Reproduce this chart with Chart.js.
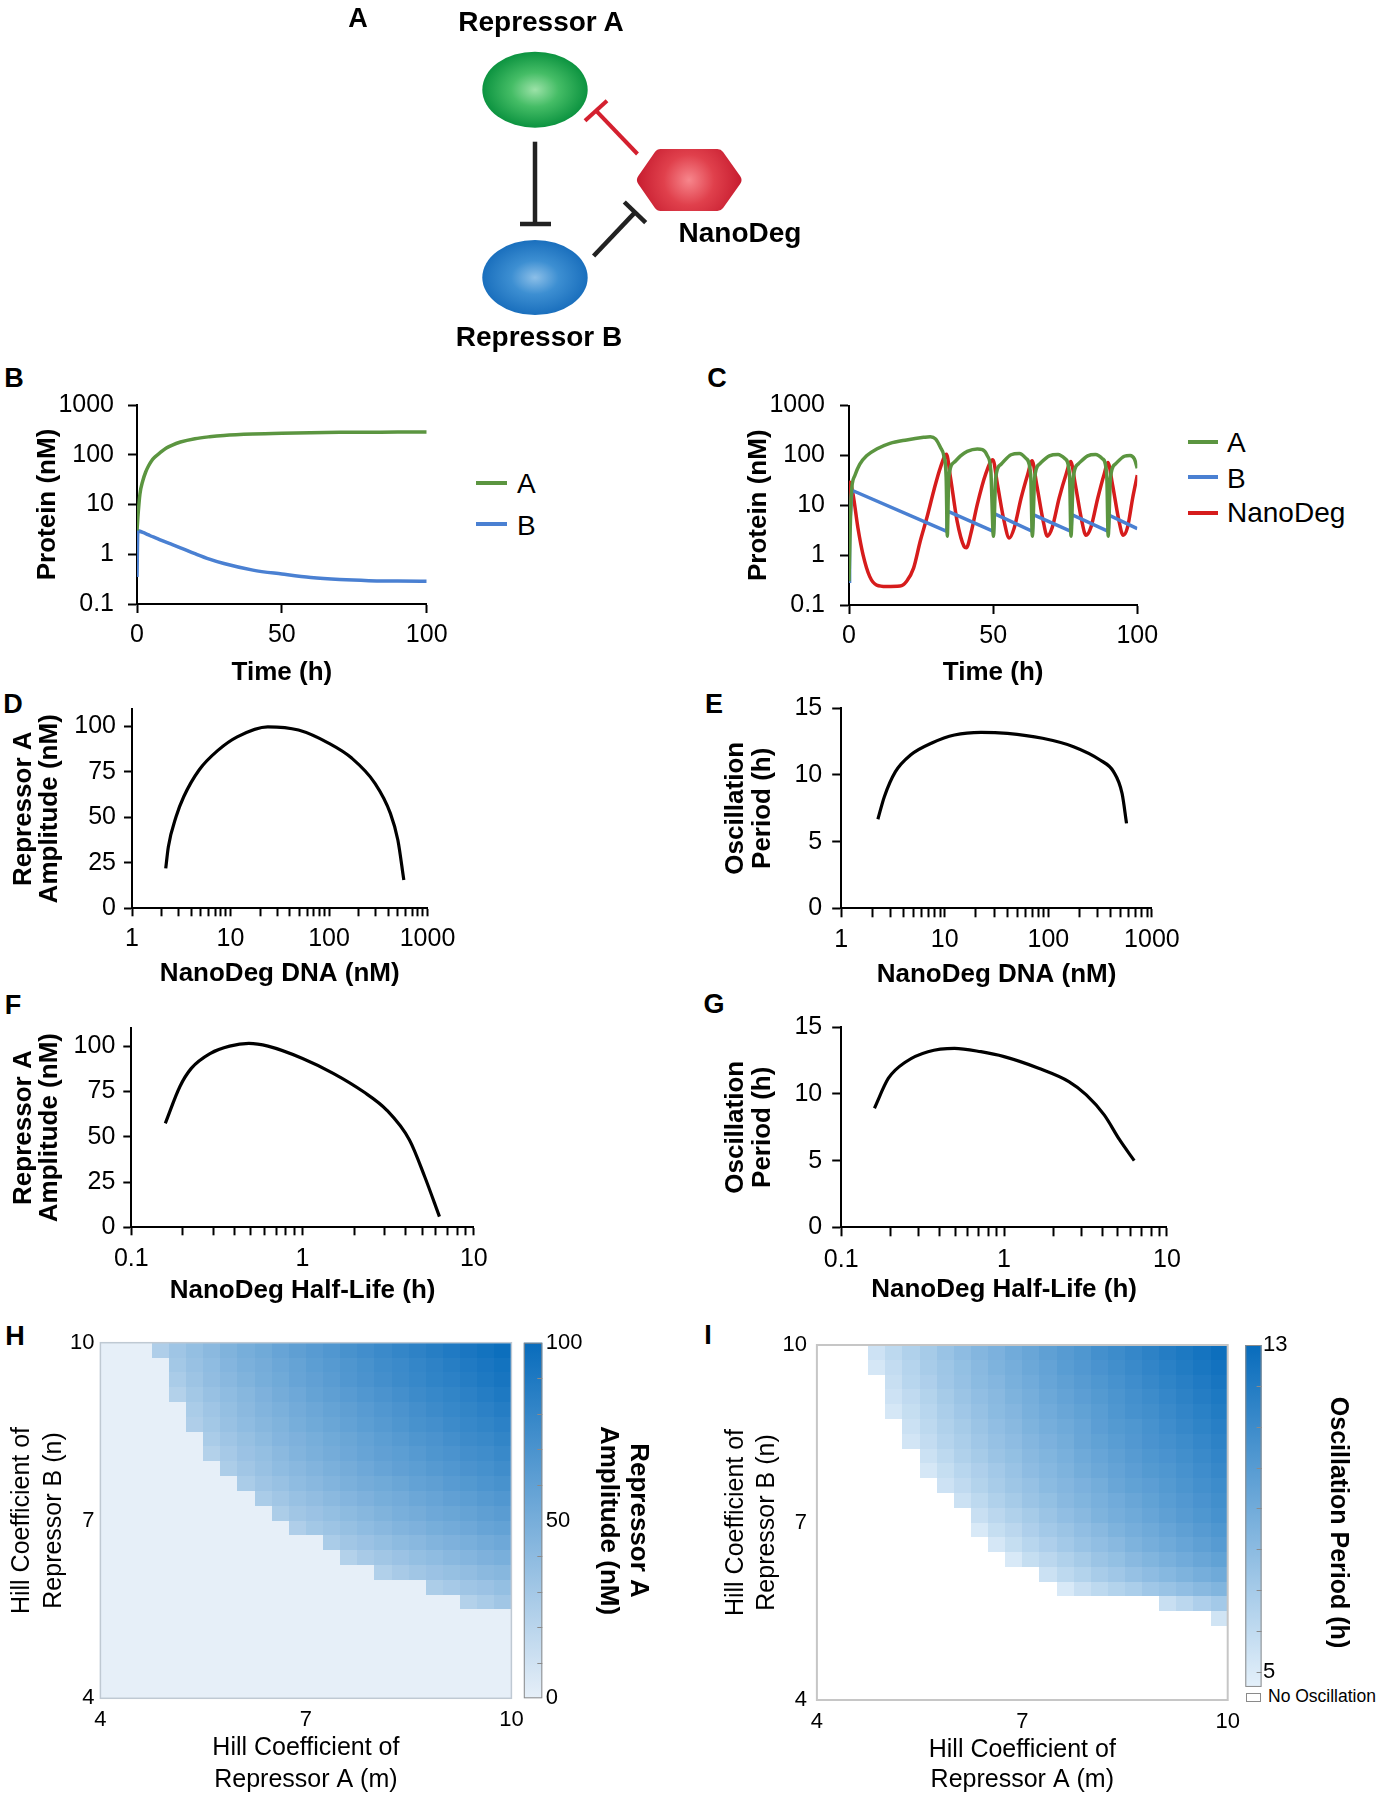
<!DOCTYPE html>
<html lang="en">
<head>
<meta charset="UTF-8">
<title>NanoDeg oscillator</title>
<script src="https://cdn.jsdelivr.net/npm/chart.js@4.4.1/dist/chart.umd.min.js"></script>
<style>
  body { margin: 0; background: #fff; }
  #page { position: relative; width: 1381px; height: 1800px; overflow: hidden; font-family: 'Liberation Sans', Arial, sans-serif; color: #000; }
  #page canvas { position: absolute; }
  .lbl { position: absolute; white-space: nowrap; line-height: 1; transform: translate(-50%, -50%); }
  .b { font-weight: bold; }
  .key { position: absolute; height: 4px; }
  .keytxt { position: absolute; font-size: 28px; line-height: 1; transform: translateY(-50%); white-space: nowrap; }
</style>
</head>
<body>
<div id="page">
  <canvas id="diagram" width="500" height="360" style="left:300px;top:0;width:500px;height:360px"></canvas>

  <div class="lbl b" style="left:358px;top:18px;font-size:27px">A</div>
  <div class="lbl b" style="left:541px;top:22px;font-size:28px">Repressor A</div>
  <div class="lbl b" style="left:740px;top:233px;font-size:28px">NanoDeg</div>
  <div class="lbl b" style="left:539px;top:337px;font-size:28px">Repressor B</div>

  <div class="lbl b" style="left:14px;top:378px;font-size:27px">B</div>
  <div class="lbl b" style="left:717px;top:378px;font-size:27px">C</div>
  <div class="lbl b" style="left:13px;top:704px;font-size:27px">D</div>
  <div class="lbl b" style="left:714px;top:704px;font-size:27px">E</div>
  <div class="lbl b" style="left:13px;top:1005px;font-size:27px">F</div>
  <div class="lbl b" style="left:714px;top:1004px;font-size:27px">G</div>
  <div class="lbl b" style="left:15px;top:1336px;font-size:27px">H</div>
  <div class="lbl b" style="left:708px;top:1335px;font-size:27px">I</div>

  <div class="key" style="left:476px;top:481px;width:31px;background:#5b9540"></div>
  <div class="keytxt" style="left:517px;top:484px">A</div>
  <div class="key" style="left:476px;top:522px;width:31px;background:#4a80d2"></div>
  <div class="keytxt" style="left:517px;top:526px">B</div>

  <div class="key" style="left:1188px;top:440px;width:30px;background:#5b9540"></div>
  <div class="keytxt" style="left:1227px;top:443px">A</div>
  <div class="key" style="left:1188px;top:475px;width:30px;background:#4a80d2"></div>
  <div class="keytxt" style="left:1227px;top:479px">B</div>
  <div class="key" style="left:1188px;top:511px;width:30px;background:#d61c1c"></div>
  <div class="keytxt" style="left:1227px;top:513px">NanoDeg</div>

  <div style="position:absolute;left:1246px;top:1693px;width:15px;height:9px;border:1px solid #8a8a8a;box-sizing:border-box;background:#fff"></div>
  <div class="keytxt" style="left:1268px;top:1697px;font-size:17.5px">No Oscillation</div>
</div>

<script>
// ---- B: circuit without NanoDeg ----
const timeB   = [0, 0.3, 1, 2, 3, 4, 5, 6, 8, 10, 12, 15, 20, 25, 30, 40, 50, 60, 70, 80, 90, 100];
const protA_B = [3, 5.5, 16, 30, 45, 60, 75, 88, 110, 135, 155, 180, 210, 230, 245, 262, 272, 278, 282, 284, 286, 287];
const protB_B = [0.35, 3.0, 2.9, 2.75, 2.6, 2.45, 2.3, 2.18, 1.95, 1.75, 1.58, 1.35, 1.03, 0.8, 0.65, 0.48, 0.4, 0.34, 0.31, 0.295, 0.29, 0.285];

// ---- C: circuit with NanoDeg ----
const timeC_A = [0, 0.8, 2, 3.7, 6.1, 9.6, 14.2, 20, 25.9, 28.2, 30, 31.7, 32.9, 33.7, 34.1, 34.6, 36.4, 38.7, 41, 44.5,
                 46.3, 48, 49.2, 50.1, 50.9, 52.7, 56.2, 59.1, 61.4, 63, 63.6, 64.4, 66.2, 69.5, 72.5, 75, 76.5, 77, 77.8, 79.6,
                 82.8, 85.5, 88, 89.4, 89.9, 90.7, 92.5, 95.5, 97.5, 99, 100];
const protA_C = [0.3, 16.6, 39, 66, 98, 134, 174, 204, 230, 237, 214, 145, 98, 36, 2.4, 36, 72, 98, 120, 134,
                 130, 98, 49, 2.4, 36, 66, 103, 109, 87, 42, 2.4, 36, 68, 98, 104, 85, 40, 2.4, 36, 68,
                 98, 104, 85, 40, 2.4, 36, 68, 96, 100, 85, 55];
const timeC_B = [0, 0.2, 1, 33.9, 34.2, 50.1, 50.4, 63.6, 63.9, 77, 77.3, 89.9, 90.2, 100];
const protB_C = [0.3, 3.5, 20, 3.0, 7.6, 3.0, 6.8, 3.0, 6.5, 3.0, 6.5, 3.0, 6.3, 3.4];
const timeC_N = [0, 0.3, 1.4, 3.1, 4.9, 7.2, 9.6, 13, 17.7, 20, 22.4, 24.7, 27, 29.4, 31.7, 33.8, 35.2, 37.5, 39.9, 40.7,
                 42.2, 44.5, 47.4, 49.9, 51.5, 53.8, 55.6, 57.3, 59.7, 62, 63.5, 65.1, 67.3, 68.8, 70.5, 72.9, 75.3, 76.9, 78.5, 80.7,
                 82.2, 83.9, 86.3, 88.5, 89.8, 91.4, 93.6, 95.1, 96.6, 98.4, 100];
const protN_C = [3.5, 29, 16.6, 3.5, 1.0, 0.37, 0.25, 0.235, 0.24, 0.3, 0.55, 1.9, 5.6, 19.6, 57, 105, 36, 4.8, 1.5, 1.4,
                 2.6, 10.4, 42, 82, 26, 4.8, 2.2, 3.5, 14, 42, 78, 26, 5, 2.4, 3.6, 14, 42, 75, 26, 5,
                 2.5, 3.6, 14, 42, 72, 26, 5, 2.5, 3.6, 14, 40];

// ---- D / E: sweep of NanoDeg DNA ----
const dnaD = [2.2, 2.34, 2.8, 3.35, 4.8, 7.5, 11.7, 23.9, 49, 100, 171, 293, 420, 500, 575];
const ampD = [21.9, 33.8, 50.2, 61.2, 75.9, 86.8, 94.1, 99.6, 97.8, 90.5, 82.3, 68.6, 52.1, 37.5, 15.5];
const dnaE = [2.26, 2.61, 3.34, 4.67, 7.6, 12.4, 22.4, 40.3, 88, 175, 316, 426, 515, 569];
const perE = [6.68, 8.37, 10.25, 11.5, 12.42, 13.0, 13.2, 13.12, 12.75, 12.12, 11.12, 10.25, 8.62, 6.37];

// ---- F / G: sweep of NanoDeg half-life ----
const halfF = [0.158, 0.192, 0.224, 0.29, 0.375, 0.486, 0.628, 1.0, 1.51, 2.27, 3.1, 4.21, 5.17, 6.3];
const ampF  = [57.4, 77.6, 87.7, 96, 100, 101.5, 100, 93.2, 85, 74.8, 64.7, 48.2, 27.9, 5.9];
const halfG = [0.16, 0.195, 0.25, 0.341, 0.496, 0.72, 1.0, 1.63, 2.5, 3.2, 4.12, 5.13, 6.3];
const perG  = [8.93, 11.18, 12.42, 13.17, 13.42, 13.17, 12.8, 11.93, 10.93, 9.93, 8.43, 6.55, 5.0];

// ---- H / I: Hill coefficient scans (cell centres, rows listed top n=9.875 to bottom n=4.125) ----
const hillM = [4.125, 4.375, 4.625, 4.875, 5.125, 5.375, 5.625, 5.875, 6.125, 6.375, 6.625, 6.875,
               7.125, 7.375, 7.625, 7.875, 8.125, 8.375, 8.625, 8.875, 9.125, 9.375, 9.625, 9.875];
const hillN = [9.875, 9.625, 9.375, 9.125, 8.875, 8.625, 8.375, 8.125, 7.875, 7.625, 7.375, 7.125,
               6.875, 6.625, 6.375, 6.125, 5.875, 5.625, 5.375, 5.125, 4.875, 4.625, 4.375, 4.125];
const hillStep = 0.25;
// repressor A amplitude (nM)
const ampH = [
  [0,0,0,25,32,37,41,46,50,53,57,61,64,67,71,74,77,80,83,86,89,92,95,98],
  [0,0,0,0,30,35,39,44,48,51,55,58,62,65,68,71,75,77,80,83,86,89,92,95],
  [0,0,0,0,27,33,38,42,46,50,53,57,60,63,67,70,73,76,79,82,84,87,90,93],
  [0,0,0,0,23,30,35,39,43,47,51,54,58,61,64,67,70,73,76,79,81,84,87,90],
  [0,0,0,0,0,27,32,37,41,45,48,52,55,58,61,64,67,70,73,76,79,81,84,87],
  [0,0,0,0,0,25,30,35,39,43,46,50,53,56,59,62,65,68,71,73,76,79,81,84],
  [0,0,0,0,0,0,27,32,36,40,44,47,50,53,56,59,62,65,68,70,73,76,78,81],
  [0,0,0,0,0,0,23,29,34,37,41,45,48,51,54,57,60,62,65,68,70,73,75,78],
  [0,0,0,0,0,0,0,26,31,35,39,42,45,48,51,54,57,60,62,65,67,70,72,75],
  [0,0,0,0,0,0,0,0,27,32,35,39,42,45,48,51,53,56,59,61,64,66,69,71],
  [0,0,0,0,0,0,0,0,0,27,31,35,38,41,44,47,50,52,55,57,60,62,65,67],
  [0,0,0,0,0,0,0,0,0,0,26,31,34,37,40,43,46,49,51,54,56,58,61,63],
  [0,0,0,0,0,0,0,0,0,0,0,25,30,33,36,39,42,45,47,50,52,54,57,59],
  [0,0,0,0,0,0,0,0,0,0,0,0,0,27,31,34,37,40,42,45,47,49,52,54],
  [0,0,0,0,0,0,0,0,0,0,0,0,0,0,23,28,31,34,37,39,42,44,47,49],
  [0,0,0,0,0,0,0,0,0,0,0,0,0,0,0,0,24,28,31,34,36,38,41,43],
  [0,0,0,0,0,0,0,0,0,0,0,0,0,0,0,0,0,0,0,26,29,32,34,37],
  [0,0,0,0,0,0,0,0,0,0,0,0,0,0,0,0,0,0,0,0,0,23,27,31],
  [0,0,0,0,0,0,0,0,0,0,0,0,0,0,0,0,0,0,0,0,0,0,0,0],
  [0,0,0,0,0,0,0,0,0,0,0,0,0,0,0,0,0,0,0,0,0,0,0,0],
  [0,0,0,0,0,0,0,0,0,0,0,0,0,0,0,0,0,0,0,0,0,0,0,0],
  [0,0,0,0,0,0,0,0,0,0,0,0,0,0,0,0,0,0,0,0,0,0,0,0],
  [0,0,0,0,0,0,0,0,0,0,0,0,0,0,0,0,0,0,0,0,0,0,0,0],
  [0,0,0,0,0,0,0,0,0,0,0,0,0,0,0,0,0,0,0,0,0,0,0,0]
];
// oscillation period (h); 0 = no oscillation
const perI = [
  [0,0,0,5.5,6.1,6.6,7.0,7.5,7.9,8.3,8.6,9.0,9.3,9.7,10.0,10.3,10.7,11.0,11.3,11.6,11.9,12.2,12.5,12.8],
  [0,0,0,5.2,5.9,6.4,6.9,7.3,7.7,8.1,8.5,8.8,9.2,9.5,9.9,10.2,10.5,10.8,11.1,11.4,11.7,12.0,12.3,12.6],
  [0,0,0,0,5.7,6.3,6.7,7.2,7.6,8.0,8.3,8.7,9.0,9.4,9.7,10.0,10.3,10.6,10.9,11.2,11.5,11.8,12.1,12.4],
  [0,0,0,0,5.5,6.0,6.5,7.0,7.4,7.8,8.1,8.5,8.8,9.2,9.5,9.8,10.1,10.4,10.7,11.0,11.3,11.6,11.9,12.2],
  [0,0,0,0,5.2,5.8,6.3,6.8,7.2,7.6,8.0,8.3,8.7,9.0,9.3,9.6,9.9,10.3,10.6,10.8,11.1,11.4,11.7,12.0],
  [0,0,0,0,0,5.6,6.1,6.6,7.0,7.4,7.8,8.1,8.5,8.8,9.1,9.4,9.8,10.1,10.3,10.6,10.9,11.2,11.5,11.8],
  [0,0,0,0,0,5.3,5.9,6.4,6.8,7.2,7.6,7.9,8.3,8.6,8.9,9.3,9.6,9.9,10.2,10.5,10.7,11.0,11.3,11.6],
  [0,0,0,0,0,0,5.6,6.1,6.6,7.0,7.4,7.7,8.1,8.4,8.7,9.1,9.4,9.7,10.0,10.3,10.5,10.8,11.1,11.4],
  [0,0,0,0,0,0,5.2,5.8,6.3,6.7,7.1,7.5,7.9,8.2,8.5,8.9,9.2,9.5,9.8,10.1,10.3,10.6,10.9,11.2],
  [0,0,0,0,0,0,0,5.5,6.0,6.5,6.9,7.3,7.6,8.0,8.3,8.6,8.9,9.3,9.6,9.8,10.1,10.4,10.7,11.0],
  [0,0,0,0,0,0,0,0,5.6,6.1,6.6,7.0,7.4,7.7,8.1,8.4,8.7,9.0,9.3,9.6,9.9,10.2,10.5,10.8],
  [0,0,0,0,0,0,0,0,0,5.7,6.2,6.6,7.0,7.4,7.8,8.1,8.5,8.8,9.1,9.4,9.7,10.0,10.3,10.6],
  [0,0,0,0,0,0,0,0,0,5.1,5.8,6.2,6.7,7.1,7.4,7.8,8.1,8.5,8.8,9.1,9.4,9.7,10.0,10.3],
  [0,0,0,0,0,0,0,0,0,0,5.2,5.8,6.3,6.7,7.1,7.5,7.8,8.1,8.5,8.8,9.1,9.4,9.7,10.0],
  [0,0,0,0,0,0,0,0,0,0,0,5.1,5.8,6.2,6.6,7.0,7.4,7.7,8.1,8.4,8.7,9.0,9.3,9.6],
  [0,0,0,0,0,0,0,0,0,0,0,0,0,5.6,6.1,6.5,6.9,7.2,7.6,7.9,8.2,8.5,8.8,9.1],
  [0,0,0,0,0,0,0,0,0,0,0,0,0,0,5.1,5.7,6.1,6.5,6.8,7.2,7.5,7.8,8.1,8.4],
  [0,0,0,0,0,0,0,0,0,0,0,0,0,0,0,0,0,0,0,0,5.7,6.2,6.7,7.1],
  [0,0,0,0,0,0,0,0,0,0,0,0,0,0,0,0,0,0,0,0,0,0,0,5.4],
  [0,0,0,0,0,0,0,0,0,0,0,0,0,0,0,0,0,0,0,0,0,0,0,0],
  [0,0,0,0,0,0,0,0,0,0,0,0,0,0,0,0,0,0,0,0,0,0,0,0],
  [0,0,0,0,0,0,0,0,0,0,0,0,0,0,0,0,0,0,0,0,0,0,0,0],
  [0,0,0,0,0,0,0,0,0,0,0,0,0,0,0,0,0,0,0,0,0,0,0,0],
  [0,0,0,0,0,0,0,0,0,0,0,0,0,0,0,0,0,0,0,0,0,0,0,0]
];

// ---- tick values ----
const protTicks = [0.1, 1, 10, 100, 1000];
const timeTicks = [0, 50, 100];
const ampTicks = [0, 25, 50, 75, 100];
const periodTicks = [0, 5, 10, 15];
const dnaTicks = [1,2,3,4,5,6,7,8,9,10,20,30,40,50,60,70,80,90,100,200,300,400,500,600,700,800,900,1000];
const dnaLabels = [1, 10, 100, 1000];
const halfTicks = [0.1,0.2,0.3,0.4,0.5,0.6,0.7,0.8,0.9,1,2,3,4,5,6,7,8,9,10];
const halfLabels = [0.1, 1, 10];
const hillTicks = [4, 7, 10];
const ampBarTicks = [0, 50, 100];
const ampBarMinor = [10, 20, 30, 40, 60, 70, 80, 90];
const perBarTicks = [5, 13];
const perBarMinor = [5, 6, 7, 8, 9, 10, 11, 12];

const GREEN = '#5b9540', BLUE = '#4a80d2', RED = '#d61c1c';

Chart.defaults.font.family = "'Liberation Sans', Arial, Helvetica, sans-serif";
Chart.defaults.color = '#000';

const page = document.getElementById('page');
// room above / right of each plot so that tick-label padding never pushes the plot area
const PAD_TOP = 55, PAD_RIGHT = 50;

function addCanvas(left, top, width, height) {
  const c = document.createElement('canvas');
  c.width = width; c.height = height;
  Object.assign(c.style, {left: left + 'px', top: top + 'px', width: width + 'px', height: height + 'px'});
  page.appendChild(c);
  return c;
}

function pts(xs, ys) { return xs.map((x, i) => ({x, y: ys[i]})); }

function lineChart(o) {
  const top = Math.round(o.area.t - PAD_TOP);
  const right = Math.round(o.area.r + PAD_RIGHT);
  const cv = addCanvas(o.left, top, right - o.left, o.bottom - top);
  const yW = o.area.l - o.left, xH = o.bottom - o.area.b;
  const axis = () => ({
    border: {display: true, color: '#000', width: 2},
    grid: {display: true, drawOnChartArea: false, drawTicks: true, tickLength: o.tick, tickColor: '#000', tickWidth: 2}
  });
  return new Chart(cv, {
    type: 'line',
    data: {datasets: o.datasets.map(d => Object.assign({pointRadius: 0, borderWidth: 3.5, fill: false, cubicInterpolationMode: 'monotone'}, d))},
    options: {
      responsive: false, animation: false, events: [],
      layout: {padding: {left: 0, top: o.area.t - top, right: right - o.area.r, bottom: 0}},
      plugins: {legend: {display: false}, tooltip: {enabled: false}},
      scales: {
        x: Object.assign(axis(), {
          type: o.xType, min: o.xMin, max: o.xMax,
          afterBuildTicks: s => { s.ticks = o.xTicks.map(value => ({value})); },
          afterFit: s => { s.height = xH; },
          ticks: {autoSkip: false, maxRotation: 0, padding: o.xPad, font: {size: 25},
                  callback: v => (!o.xLabels || o.xLabels.includes(v)) ? String(v) : ''},
          title: {display: true, text: o.xTitle, font: {size: 26, weight: 'bold', lineHeight: 1.2}, padding: 0}
        }),
        y: Object.assign(axis(), {
          type: o.yType, min: o.yMin, max: o.yMax,
          afterBuildTicks: s => { s.ticks = o.yTicks.map(value => ({value})); },
          afterFit: s => { s.width = yW; },
          ticks: {autoSkip: false, padding: o.yPad, font: {size: 25}, callback: v => String(v)},
          title: {display: true, text: o.yTitle, font: {size: 26, weight: 'bold', lineHeight: o.yLH || 1.2}, padding: 0}
        })
      }
    }
  });
}

function mix(c0, c1, t) {
  t = Math.max(0, Math.min(1, t));
  return 'rgb(' + c0.map((v, i) => Math.round(v + (c1[i] - v) * t)).join(',') + ')';
}

function heatChart(o) {
  const top = Math.round(o.area.t - PAD_TOP);
  const cv = addCanvas(o.left, top, o.right - o.left, o.bottom - top);
  const yW = o.area.l - o.left, xH = o.bottom - o.area.b, rW = o.right - o.area.r;
  const hidden = () => ({grid: {display: false, drawTicks: false}, border: {display: false}});
  const cells = [];
  o.rows.forEach((row, r) => row.forEach((v, c) => cells.push({x: hillM[c], y: hillN[r], v})));
  const half = hillStep / 2;
  const cellPlugin = {
    id: 'cells',
    beforeDatasetsDraw(chart) {
      const {ctx, chartArea: a, scales: {x, y, cbar}} = chart;
      ctx.save();
      chart.data.datasets[0].data.forEach(p => {
        const x0 = Math.round(x.getPixelForValue(p.x - half)), x1 = Math.round(x.getPixelForValue(p.x + half));
        const y0 = Math.round(y.getPixelForValue(p.y + half)), y1 = Math.round(y.getPixelForValue(p.y - half));
        ctx.fillStyle = o.color(p.v);
        ctx.fillRect(x0, y0, x1 - x0, y1 - y0);
      });
      ctx.strokeStyle = o.frame; ctx.lineWidth = o.frameW;
      ctx.strokeRect(a.left, a.top, a.right - a.left, a.bottom - a.top);
      // colour bar on its own scale
      const bx = a.right + o.barX0, bw = o.barX1 - o.barX0;
      const yt = cbar.getPixelForValue(o.barMax), yb = cbar.getPixelForValue(o.barMin);
      const g = ctx.createLinearGradient(0, yb, 0, yt);
      g.addColorStop(0, mix(o.low, o.high, 0));
      g.addColorStop(1, mix(o.low, o.high, 1));
      ctx.fillStyle = g;
      ctx.fillRect(bx, yt, bw, yb - yt);
      ctx.strokeStyle = '#8a8a8a'; ctx.lineWidth = 1;
      ctx.strokeRect(bx + 0.5, yt + 0.5, bw - 1, yb - yt - 1);
      ctx.beginPath();
      o.minor.forEach(v => {
        const py = Math.round(cbar.getPixelForValue(v)) + 0.5;
        ctx.moveTo(bx + bw - 5, py); ctx.lineTo(bx + bw, py);
      });
      ctx.stroke();
      ctx.restore();
    }
  };
  return new Chart(cv, {
    type: 'scatter',
    data: {datasets: [{data: cells, pointRadius: 0, pointHoverRadius: 0}]},
    options: {
      responsive: false, animation: false, events: [],
      layout: {padding: {left: 0, top: o.area.t - top, right: 0, bottom: 0}},
      plugins: {legend: {display: false}, tooltip: {enabled: false}},
      scales: {
        x: Object.assign(hidden(), {
          type: 'linear', min: 4, max: 10,
          afterBuildTicks: s => { s.ticks = hillTicks.map(value => ({value})); },
          afterFit: s => { s.height = xH; },
          ticks: {autoSkip: false, maxRotation: 0, padding: o.xPad, font: {size: 22}},
          title: {display: true, text: ['Hill Coefficient of', 'Repressor A (m)'], font: {size: 25, lineHeight: o.xLH}, padding: 0}
        }),
        y: Object.assign(hidden(), {
          type: 'linear', min: 4, max: 10,
          afterBuildTicks: s => { s.ticks = hillTicks.map(value => ({value})); },
          afterFit: s => { s.width = yW; },
          ticks: {autoSkip: false, padding: o.yPad, font: {size: 22}},
          title: {display: true, text: ['Hill Coefficient of', 'Repressor B (n)'], font: {size: 25, lineHeight: o.yLH}, padding: 0}
        }),
        cbar: Object.assign(hidden(), {
          type: 'linear', position: 'right', min: o.cbMin, max: o.cbMax,
          afterBuildTicks: s => { s.ticks = o.cbTicks.map(value => ({value})); },
          afterFit: s => { s.width = rW; },
          ticks: {autoSkip: false, padding: o.cbPad, font: {size: 22}},
          title: {display: true, text: o.cbTitle, font: {size: o.cbSize, weight: 'bold', lineHeight: o.cbLH}, padding: 0}
        })
      }
    },
    plugins: [cellPlugin]
  });
}

// ---- B ----
lineChart({
  left: 32, bottom: 688, area: {l: 137, r: 426.7, t: 405, b: 604}, tick: 9, xPad: 7, yPad: 14,
  xType: 'linear', xMin: 0, xMax: 100, xTicks: timeTicks, xTitle: 'Time (h)',
  yType: 'logarithmic', yMin: 0.1, yMax: 1000, yTicks: protTicks, yTitle: 'Protein (nM)',
  datasets: [
    {data: pts(timeB, protA_B), borderColor: GREEN},
    {data: pts(timeB, protB_B), borderColor: BLUE}
  ]
});

// ---- C ----
lineChart({
  left: 743, bottom: 688, area: {l: 849, r: 1137.3, t: 405.5, b: 605}, tick: 9, xPad: 7, yPad: 15,
  xType: 'linear', xMin: 0, xMax: 100, xTicks: timeTicks, xTitle: 'Time (h)',
  yType: 'logarithmic', yMin: 0.1, yMax: 1000, yTicks: protTicks, yTitle: 'Protein (nM)',
  datasets: [
    {data: pts(timeC_A, protA_C), borderColor: GREEN},
    {data: pts(timeC_B, protB_C), borderColor: BLUE, cubicInterpolationMode: 'default', tension: 0},
    {data: pts(timeC_N, protN_C), borderColor: RED}
  ]
});

// ---- D ----
lineChart({
  left: 10, bottom: 989, area: {l: 132, r: 427.5, t: 709.3, b: 908.3}, tick: 8, xPad: 8, yPad: 8,
  xType: 'logarithmic', xMin: 1, xMax: 1000, xTicks: dnaTicks, xLabels: dnaLabels, xTitle: 'NanoDeg DNA (nM)',
  yType: 'linear', yMin: 0, yMax: 109.2, yTicks: ampTicks, yTitle: ['Repressor A', 'Amplitude (nM)'], yLH: 1.03,
  datasets: [{data: pts(dnaD, ampD), borderColor: '#000', borderWidth: 3.2}]
});

// ---- E ----
lineChart({
  left: 722, bottom: 990, area: {l: 841.2, r: 1151.9, t: 708.3, b: 908.3}, tick: 9, xPad: 8, yPad: 10,
  xType: 'logarithmic', xMin: 1, xMax: 1000, xTicks: dnaTicks, xLabels: dnaLabels, xTitle: 'NanoDeg DNA (nM)',
  yType: 'linear', yMin: 0, yMax: 15, yTicks: periodTicks, yTitle: ['Oscillation', 'Period (h)'], yLH: 1.05,
  datasets: [{data: pts(dnaE, perE), borderColor: '#000', borderWidth: 3.2}]
});

// ---- F ----
lineChart({
  left: 10, bottom: 1306, area: {l: 131.3, r: 473.8, t: 1028, b: 1227.3}, tick: 8, xPad: 9, yPad: 8,
  xType: 'logarithmic', xMin: 0.1, xMax: 10, xTicks: halfTicks, xLabels: halfLabels, xTitle: 'NanoDeg Half-Life (h)',
  yType: 'linear', yMin: 0, yMax: 110, yTicks: ampTicks, yTitle: ['Repressor A', 'Amplitude (nM)'], yLH: 1.03,
  datasets: [{data: pts(halfF, ampF), borderColor: '#000', borderWidth: 3.2}]
});

// ---- G ----
lineChart({
  left: 722, bottom: 1305, area: {l: 841.2, r: 1166.9, t: 1027.3, b: 1227.3}, tick: 9, xPad: 9, yPad: 10,
  xType: 'logarithmic', xMin: 0.1, xMax: 10, xTicks: halfTicks, xLabels: halfLabels, xTitle: 'NanoDeg Half-Life (h)',
  yType: 'linear', yMin: 0, yMax: 15, yTicks: periodTicks, yTitle: ['Oscillation', 'Period (h)'], yLH: 1.05,
  datasets: [{data: pts(halfG, perG), borderColor: '#000', borderWidth: 3.2}]
});

// ---- H ----
const AMP_LOW = [230, 239, 248], AMP_HIGH = [8, 108, 188];
heatChart({
  left: 6, right: 654, bottom: 1796, area: {l: 100.4, r: 511.4, t: 1342.7, b: 1698.3},
  rows: ampH, color: v => mix(AMP_LOW, AMP_HIGH, v / 100),
  frame: '#bfc9d3', frameW: 1.5,
  xPad: 8.5, yPad: 6, xLH: 1.27, yLH: 1.28,
  cbMin: 0, cbMax: 100, cbTicks: ampBarTicks, cbPad: 34.4, cbTitle: ['Repressor A', 'Amplitude (nM)'], cbSize: 26, cbLH: 1.185,
  barX0: 12.4, barX1: 30.9, barMin: 0, barMax: 100, low: AMP_LOW, high: AMP_HIGH, minor: ampBarMinor
});

// ---- I ----
const PER_LOW = [228, 240, 250], PER_HIGH = [8, 108, 188];
const PER_MIN = 4.63, PER_MAX = 13;
heatChart({
  left: 721, right: 1353, bottom: 1795, area: {l: 816.9, r: 1227.7, t: 1345, b: 1700},
  rows: perI, color: v => v === 0 ? '#ffffff' : mix(PER_LOW, PER_HIGH, (v - PER_MIN) / (PER_MAX - PER_MIN)),
  frame: '#c6c6c6', frameW: 2,
  xPad: 8.5, yPad: 10, xLH: 1.2, yLH: 1.24,
  cbMin: 4.31, cbMax: 13, cbTicks: perBarTicks, cbPad: 35.3, cbTitle: 'Oscillation Period (h)', cbSize: 25, cbLH: 1.2,
  barX0: 17.6, barX1: 33.9, barMin: PER_MIN, barMax: PER_MAX, low: PER_LOW, high: PER_HIGH, minor: perBarMinor
});

// ---- A: circuit diagram ----
(function drawDiagram() {
  const ctx = document.getElementById('diagram').getContext('2d');
  const ox = 300;
  function blob(cx, cy, rx, ry, stops) {
    ctx.save();
    ctx.translate(cx - ox, cy);
    ctx.scale(1, ry / rx);
    const g = ctx.createRadialGradient(0, 0, 0, 0, 0, rx);
    stops.forEach(([p, c]) => g.addColorStop(p, c));
    ctx.fillStyle = g;
    ctx.beginPath(); ctx.arc(0, 0, rx, 0, Math.PI * 2); ctx.fill();
    ctx.restore();
  }
  blob(535, 89.7, 52.7, 38, [[0, '#9ce2a8'], [0.45, '#45bd66'], [1, '#0c9340']]);
  blob(535, 277.5, 52.7, 37.5, [[0, '#8cbfe8'], [0.45, '#3d8fd2'], [1, '#1a6fbd']]);

  // hexagon
  const hx = [[657, 149], [721, 149], [743, 180], [721, 211], [657, 211], [635.5, 180]];
  ctx.save();
  const g = ctx.createRadialGradient(689 - ox, 180, 0, 689 - ox, 180, 56);
  g.addColorStop(0, '#f7868c'); g.addColorStop(0.45, '#e0404c'); g.addColorStop(1, '#c4182c');
  ctx.fillStyle = g;
  ctx.beginPath();
  const r = 7;
  for (let i = 0; i < hx.length; i++) {
    const p = hx[i], q = hx[(i + 1) % hx.length], prev = hx[(i + hx.length - 1) % hx.length];
    const mx = (prev[0] + p[0]) / 2 - ox, my = (prev[1] + p[1]) / 2;
    if (i === 0) ctx.moveTo(mx, my);
    ctx.arcTo(p[0] - ox, p[1], q[0] - ox, q[1], r);
  }
  ctx.closePath(); ctx.fill();
  ctx.restore();

  function seg(x1, y1, x2, y2, color, w) {
    ctx.strokeStyle = color; ctx.lineWidth = w; ctx.lineCap = 'butt';
    ctx.beginPath(); ctx.moveTo(x1 - ox, y1); ctx.lineTo(x2 - ox, y2); ctx.stroke();
  }
  seg(535, 141.7, 535, 224, '#222', 4.5);
  seg(520, 224, 551, 224, '#222', 4.5);
  seg(637.5, 154, 596, 110.7, '#d4202f', 4);
  seg(585, 120.7, 607, 100.7, '#d4202f', 4);
  seg(593.6, 256, 635, 212.4, '#222', 4.5);
  seg(624.3, 202, 645.7, 222.7, '#222', 4.5);
})();
</script>
</body>
</html>
